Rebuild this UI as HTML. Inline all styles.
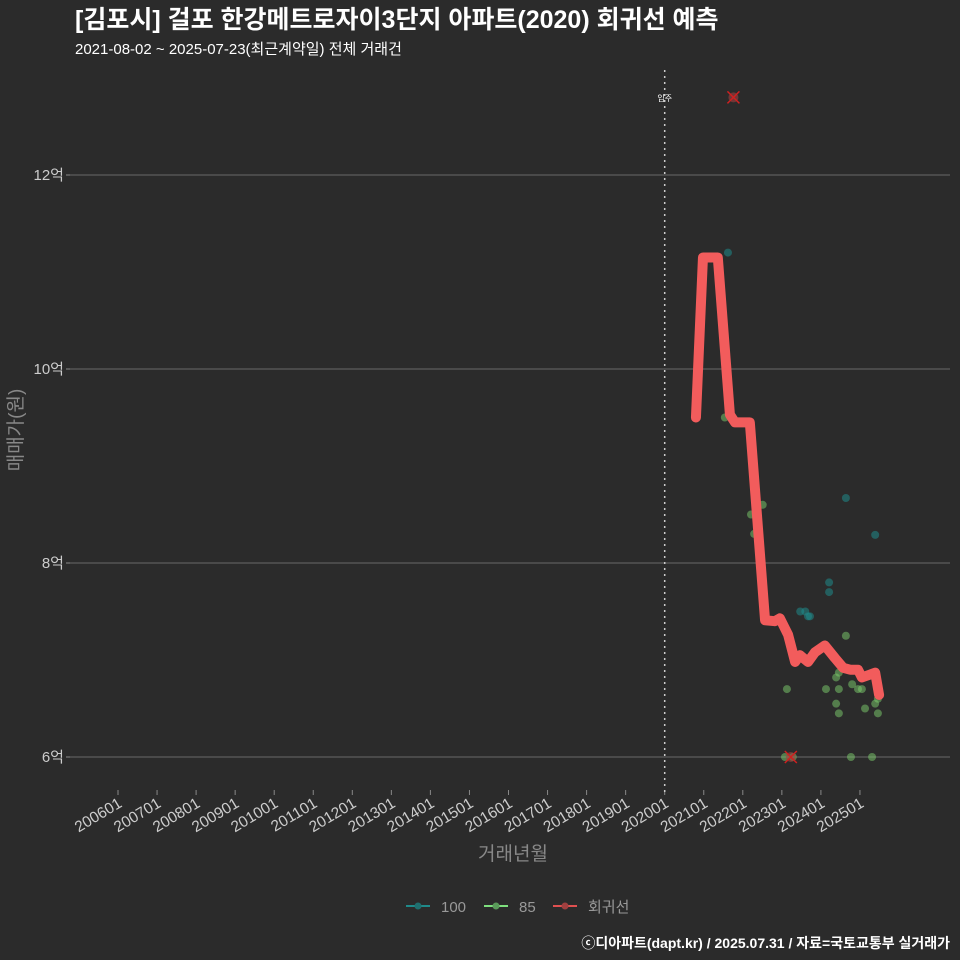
<!DOCTYPE html>
<html><head><meta charset="utf-8">
<style>
html,body{margin:0;padding:0;background:#2b2b2b;}
svg{display:block;font-family:"Liberation Sans","Noto Sans CJK KR",sans-serif;}
</style></head>
<body>
<svg id="c" width="960" height="960" viewBox="0 0 960 960">
<rect width="960" height="960" fill="#2b2b2b"/>
<text x="75" y="28" font-size="25" font-weight="bold" fill="#ffffff">[김포시] 걸포 한강메트로자이3단지 아파트(2020) 회귀선 예측</text>
<text x="75" y="54" font-size="15" fill="#ffffff">2021-08-02 ~ 2025-07-23(최근계약일) 전체 거래건</text>
<g id="grid"></g>
<g id="xaxis"></g>
<g id="marks"></g>
<text x="513" y="860" font-size="19" fill="#888" text-anchor="middle">거래년월</text>
<text transform="translate(22,430) rotate(-90)" font-size="19" fill="#888" text-anchor="middle">매매가(원)</text>
<g font-size="15" fill="#999">
 <g><line x1="406" y1="906" x2="430" y2="906" stroke="#1f8a8a" stroke-width="2"/><circle cx="418" cy="906" r="3.5" fill="#1f6f6f"/><text x="441" y="912">100</text></g>
 <g><line x1="484" y1="906" x2="508" y2="906" stroke="#7ee07e" stroke-width="2"/><circle cx="496" cy="906" r="3.5" fill="#5a9a5a"/><text x="519" y="912">85</text></g>
 <g><line x1="553" y1="906" x2="577" y2="906" stroke="#e05050" stroke-width="2"/><circle cx="565" cy="906" r="3.5" fill="#a04040"/><text x="588" y="912">회귀선</text></g>
</g>
<text x="950" y="948" font-size="14" font-weight="bold" fill="#ffffff" text-anchor="end">ⓒ디아파트(dapt.kr) / 2025.07.31 / 자료=국토교통부 실거래가</text>
</svg>
<script>
const yTicks=[6,8,10,12];
const yTickLabels=["6억","8억","10억","12억"];
const xTickYears=[2006,2007,2008,2009,2010,2011,2012,2013,2014,2015,2016,2017,2018,2019,2020,2021,2022,2023,2024,2025];
const xTickLabels=["200601","200701","200801","200901","201001","201101","201201","201301","201401","201501","201601","201701","201801","201901","202001","202101","202201","202301","202401","202501"];
const lineDates=[2020.80,2020.98,2021.36,2021.67,2021.80,2022.18,2022.57,2022.82,2022.95,2023.16,2023.34,2023.46,2023.67,2023.85,2024.10,2024.36,2024.57,2024.75,2024.95,2025.05,2025.26,2025.39,2025.49];
const lineValues=[9.5,11.15,11.15,9.53,9.45,9.45,7.41,7.4,7.43,7.26,6.98,7.05,6.98,7.08,7.15,7.02,6.92,6.9,6.9,6.82,6.85,6.87,6.64];
const s100Dates=[2021.62,2024.64,2025.39,2024.21,2024.21,2023.47,2023.6,2023.67,2023.72];
const s100Values=[11.2,8.67,8.29,7.8,7.7,7.5,7.5,7.45,7.45];
const s85Dates=[2021.54,2022.21,2022.51,2022.29,2023.13,2023.08,2023.28,2024.77,2025.31,2024.64,2024.13,2024.39,2024.46,2024.46,2024.39,2024.46,2024.80,2024.95,2025.05,2025.13,2025.39,2025.46,2025.46];
const s85Values=[9.5,8.5,8.6,8.3,6.7,6.0,6.0,6.0,6.0,7.25,6.7,6.82,6.7,6.87,6.55,6.45,6.75,6.7,6.7,6.5,6.55,6.45,6.6];
const xDates=[2021.76,2023.23];
const xValues=[12.8,6.0];
const moveInYear=2020.0;

const NS="http://www.w3.org/2000/svg";
const X=d=>118+(d-2006)*39.05;
const Y=v=>757-(v-6)*97;
function mk(tag,attrs,parent){const e=document.createElementNS(NS,tag);for(const k in attrs)e.setAttribute(k,attrs[k]);parent.appendChild(e);return e;}
const grid=document.getElementById('grid'),xa=document.getElementById('xaxis'),marks=document.getElementById('marks');
yTicks.forEach((t,i)=>{
  const l=mk('line',{x1:70,x2:950,y1:Y(t),y2:Y(t),stroke:'#5e5e5e','stroke-width':1.2},grid);
  
  
  const tk=mk('line',{x1:66,x2:70,y1:Y(t),y2:Y(t),stroke:'#888'},grid);
  
  
  const tx=mk('text',{x:64,y:Y(t)+5,'font-size':15,fill:'#cccccc','text-anchor':'end'},grid);
  tx.textContent=yTickLabels[i];
  
  
});
xTickYears.forEach((yr,i)=>{
  const x=X(yr);
  const tk=mk('line',{x1:x,x2:x,y1:790,y2:795,stroke:'#888'},xa);
  
  
  const tx=mk('text',{x:0,y:0,'font-size':15.5,fill:'#cccccc','text-anchor':'end',transform:`translate(${x+5},${806}) rotate(-31)`},xa);
  tx.textContent=xTickLabels[i];
  
  
});
const mv=mk('line',{x1:X(moveInYear),x2:X(moveInYear),y1:70,y2:795,stroke:'#cccccc','stroke-dasharray':'2,4','stroke-width':1.5},marks);


const mt=mk('text',{x:X(moveInYear),y:101,'font-size':8,fill:'#ffffff','text-anchor':'middle'},marks);
mt.textContent='입주';


s100Dates.forEach((d,i)=>{
  const c=mk('circle',{cx:X(d),cy:Y(s100Values[i]),r:4,fill:'#1f8a8a','fill-opacity':0.55},marks);
  
  
});
s85Dates.forEach((d,i)=>{
  const c=mk('circle',{cx:X(d),cy:Y(s85Values[i]),r:4,fill:'#7ecf6e','fill-opacity':0.5},marks);
  
  
});
const pl=mk('polyline',{points:lineDates.map((d,i)=>X(d)+','+Y(lineValues[i])).join(' '),fill:'none',stroke:'#f25c5c','stroke-width':10,'stroke-linejoin':'round','stroke-linecap':'round'},marks);


xDates.forEach((d,i)=>{
  const x=X(d),y=Y(xValues[i]);
  const g=mk('g',{},marks);
  
  
  mk('circle',{cx:x,cy:y,r:5,fill:'#a04040','fill-opacity':0.6},g);
  mk('path',{d:`M${x-6},${y-6}L${x+6},${y+6}M${x+6},${y-6}L${x-6},${y+6}`,stroke:'#d02020','stroke-width':1.5},g);
});
</script>
</body></html>
